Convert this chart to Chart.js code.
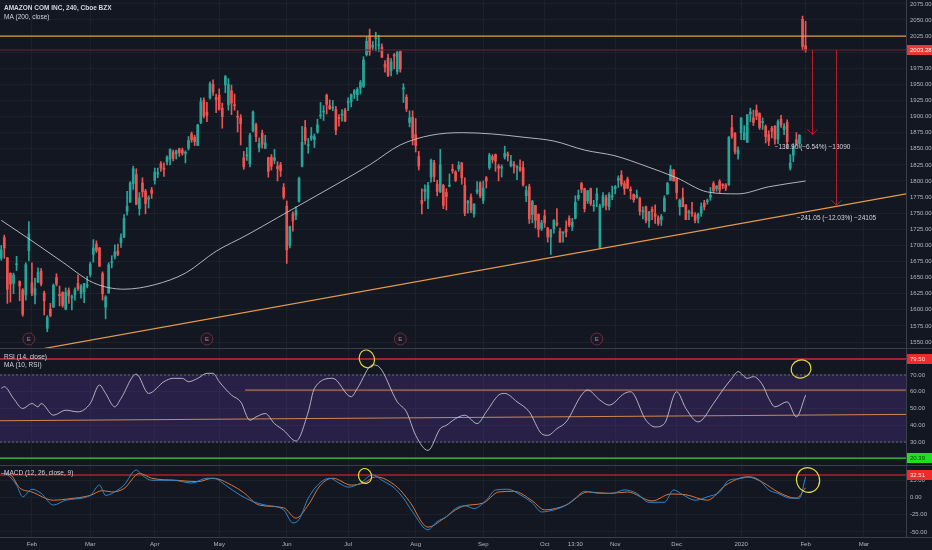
<!DOCTYPE html>
<html>
<head>
<meta charset="utf-8">
<title>AMAZON COM INC, 240</title>
<script src="https://cdn.jsdelivr.net/npm/chart.js@4.4.1/dist/chart.umd.min.js"></script>
<style>
  html, body { margin: 0; padding: 0; background: #131722; }
  #wrap { position: relative; width: 932px; height: 550px; overflow: hidden; background: #131722; }
  .pane { position: absolute; left: 0; width: 932px; }
  #p1 { top: 0; height: 348px; }
  #p2 { top: 348px; height: 117px; }
  #p3 { top: 465px; height: 85px; }
</style>
</head>
<body>
<div id="wrap">
  <div class="pane" id="p1"><canvas id="mainChart"></canvas></div>
  <div class="pane" id="p2"><canvas id="rsiChart"></canvas></div>
  <div class="pane" id="p3"><canvas id="macdChart"></canvas></div>
</div>
<script>
// one candle per trading day, 17 Jan 2019 (index 0) .. 3 Feb 2020 (index 262)
const opens = [
  1680,1712,1681,1657,1641,1670,1644,1631,1623,1692,                                   // Jan
  1642,1623,1643,1660,1626,1571,1601,1604,1650,1624,1627,1601,1630,1619,1623,1641,1625,1628,1637, // Feb
  1655,1686,1702,1696,1656,1604,1626,1673,1683,1691,1704,1713,1753,1767,1796,1810,1757,1797,1784,1772,1786, // Mar
  1801,1811,1827,1820,1830,1834,1845,1842,1850,1848,1843,1851,1873,1868,1855,1891,1925,1907,1929,1950,1930, // Apr
  1933,1913,1949,1918,1940,1918,1900,1898,1836,1839,1827,1878,1887,1852,1874,1851,1836,1837,1832,1823,1825,1790, // May
  1761,1700,1749,1747,1768,1823,1883,1855,1866,1864,1876,1901,1907,1933,1917,1913,1911,1898,1902,1910, // Jun
  1922,1923,1935,1934,1944,1947,1996,2025,2008,2021,2010,2008,1981,1991,1971,1996,1970,2001,1943,1930,1891,1899, // Jul
  1872,1838,1770,1784,1773,1806,1828,1795,1783,1793,1782,1792,1818,1814,1819,1828,1793,1766,1775,1749,1783,1797, // Aug
  1770,1805,1821,1838,1841,1823,1820,1837,1842,1824,1826,1821,1821,1821,1777,1791,1748,1762,1748,1726, // Sep
  1746,1727,1713,1726,1735,1722,1719,1725,1742,1729,1742,1773,1796,1788,1769,1788,1761,1771,1697,1762,1774,1760,1775, // Oct
  1788,1801,1809,1796,1803,1787,1779,1774,1773,1752,1760,1738,1756,1749,1743,1740,1753,1780,1801,1817, // Nov
  1804,1760,1774,1763,1751,1751,1747,1742,1750,1766,1768,1775,1796,1788,1799,1794,1794,1794,1883,1874,1842, // Dec
  1875,1864,1860,1904,1898,1910,1905,1891,1885,1872,1882,1885,1865,1896,1880,1891,1820,1840,1864,1858,2051, // Jan 2020
  2010                                                                                  // Feb 3
];
const highs = [
  1700,1716,1681,1657,1657,1683,1645,1633,1673,1737,
  1673,1649,1665,1664,1629,1591,1610,1640,1656,1637,1628,1634,1634,1623,1634,1654,1639,1641,1652,
  1674,1709,1707,1697,1659,1622,1673,1684,1701,1702,1718,1748,1784,1799,1823,1819,1782,1805,1787,1777,1790,
  1820,1820,1830,1828,1839,1850,1848,1848,1851,1851,1847,1869,1876,1871,1888,1929,1929,1922,1954,1957,1935,
  1943,1921,1964,1959,1949,1935,1909,1903,1846,1852,1874,1909,1890,1867,1879,1871,1837,1841,1849,1830,1829,1796,
  1769,1730,1752,1760,1806,1885,1894,1866,1883,1873,1896,1922,1917,1935,1926,1925,1916,1903,1911,1913,
  1929,1935,1942,1945,1956,1993,2024,2036,2017,2031,2026,2013,1987,1997,1990,1998,2001,2002,1951,1934,1909,1909,
  1897,1846,1788,1794,1798,1834,1832,1801,1849,1795,1788,1811,1826,1816,1830,1829,1805,1770,1780,1765,1799,1799,
  1800,1807,1843,1841,1842,1826,1825,1854,1845,1840,1830,1824,1833,1830,1792,1795,1770,1762,1749,1739,
  1755,1728,1725,1740,1757,1727,1721,1738,1746,1742,1777,1786,1798,1789,1785,1789,1770,1789,1764,1782,1778,1782,1792,
  1793,1808,1816,1800,1806,1791,1780,1786,1775,1760,1761,1753,1760,1763,1746,1748,1777,1798,1824,1818,
  1805,1772,1789,1763,1755,1767,1751,1750,1766,1770,1772,1790,1799,1793,1802,1796,1796,1869,1902,1875,1853,
  1898,1886,1903,1913,1910,1918,1906,1898,1887,1878,1885,1886,1895,1902,1889,1895,1841,1858,1875,1872,2056,
  2048
];
const lows = [
  1677,1680,1610,1612,1625,1661,1614,1590,1615,1676,
  1622,1609,1642,1637,1592,1566,1589,1604,1637,1606,1604,1600,1610,1600,1615,1630,1618,1611,1634,
  1651,1674,1689,1667,1615,1586,1626,1665,1679,1684,1697,1712,1747,1767,1787,1763,1747,1775,1749,1758,1773,
  1795,1805,1815,1807,1825,1825,1831,1834,1838,1840,1828,1848,1860,1855,1855,1889,1898,1892,1927,1933,1906,
  1910,1882,1937,1910,1903,1910,1876,1856,1818,1832,1822,1876,1861,1845,1851,1850,1806,1817,1827,1800,1807,1772,
  1672,1696,1722,1740,1767,1822,1857,1843,1863,1852,1874,1897,1894,1904,1911,1909,1872,1885,1893,1892,
  1909,1915,1928,1925,1935,1945,1994,1995,2003,2002,2001,1992,1969,1962,1963,1974,1966,1969,1922,1908,1884,1856,
  1845,1817,1749,1769,1757,1798,1799,1777,1782,1757,1755,1791,1812,1799,1815,1795,1746,1750,1751,1744,1780,1774,
  1765,1789,1818,1828,1815,1800,1806,1834,1831,1822,1812,1802,1815,1792,1768,1734,1735,1727,1713,1723,
  1728,1705,1686,1719,1730,1705,1705,1713,1729,1723,1741,1770,1782,1752,1765,1762,1753,1760,1695,1759,1755,1755,1771,
  1780,1790,1792,1779,1788,1772,1767,1773,1747,1741,1735,1728,1740,1734,1731,1731,1752,1779,1801,1800,
  1772,1747,1760,1740,1740,1745,1735,1735,1745,1755,1764,1770,1782,1784,1782,1788,1785,1793,1866,1842,1834,
  1864,1864,1860,1892,1886,1895,1880,1880,1859,1855,1867,1857,1858,1883,1872,1850,1817,1830,1855,1851,2003,
  2000
];
const closes = [
  1693,1696,1632,1640,1654,1670,1637,1593,1670,1718,
  1626,1633,1658,1640,1614,1588,1591,1638,1640,1622,1607,1627,1622,1619,1631,1633,1636,1641,1639,
  1671,1696,1692,1668,1625,1620,1670,1673,1690,1686,1712,1742,1761,1797,1819,1764,1774,1783,1765,1773,1781,
  1814,1813,1820,1818,1837,1849,1835,1847,1844,1843,1844,1863,1864,1861,1887,1923,1901,1902,1951,1938,1926,
  1911,1900,1962,1950,1921,1917,1899,1889,1822,1840,1871,1907,1869,1858,1857,1859,1815,1823,1836,1819,1816,1775,
  1693,1729,1738,1754,1804,1860,1863,1855,1870,1869,1887,1901,1908,1919,1912,1913,1879,1897,1904,1893,
  1923,1934,1940,1942,1953,1988,2017,2001,2011,2021,2010,1992,1977,1964,1985,1994,2000,1974,1943,1912,1898,1867,
  1855,1823,1765,1787,1793,1832,1807,1784,1825,1762,1776,1792,1816,1801,1824,1805,1750,1768,1755,1764,1786,1777,
  1789,1800,1840,1833,1831,1820,1822,1843,1839,1831,1823,1822,1817,1794,1785,1741,1768,1739,1725,1735,
  1735,1713,1724,1739,1732,1705,1721,1721,1732,1736,1767,1778,1787,1757,1785,1765,1762,1780,1761,1777,1762,1779,1777,
  1791,1804,1795,1788,1789,1785,1771,1778,1753,1754,1739,1752,1752,1745,1734,1745,1773,1796,1818,1800,
  1782,1770,1760,1740,1751,1749,1739,1748,1760,1760,1769,1778,1785,1792,1786,1793,1789,1868,1869,1846,1848,
  1898,1875,1903,1907,1891,1901,1883,1891,1869,1862,1877,1865,1892,1887,1885,1861,1828,1853,1858,1871,2009,
  2003.28
];

// MA(200, close)
const maAt  = [0,10,20,30,40,50,60,70,80,90,100,110,120,130,140,150,160,170,180,190,200,210,220,230,240,250,262];
const maVal = [1739,1707,1674,1642,1632,1639,1657,1691,1716,1743,1770,1797,1825,1856,1871,1875,1873,1868,1862,1848,1839,1823,1805,1783,1780,1791,1800];

// RSI(14, close)
const rsiAt  = [0,1,4,7,10,12,13,17,21,25,29,32,34,37,39,44,48,53,56,59,61,64,67,69,71,75,78,81,83,86,89,92,96,100,102,108,114,116,121,123,129,132,135,139,143,145,148,151,155,158,162,164,168,172,176,178,181,184,189,191,195,198,203,205,210,213,216,220,223,227,232,235,238,240,243,245,248,250,252,256,259,262];
const rsiVal = [62,63,56,50,53,51,53,46,49,48,53,64,59,51,56,70.5,59,66,68,68,66,68,71,71,66,58,54,43,45,47,41,37,30.6,48,62,68,57,62,76,75,54,48,34,25,38,40,44,46,41,48,58,59,54,48,35,34,38,42,58,61,55,52,59,60,43,39,41,60,50,42,53,61,68,72,68,69,64,56,51,54,45,58];

// MACD(12, 26, close, 9)
const macdAt  = [0,2,5,7,10,13,17,21,29,32,34,38,40,44,46,49,56,62,67,70,73,78,82,86,92,95,97,100,104,107,110,113,117,121,124,128,131,134,139,142,145,148,151,154,158,161,165,169,173,176,180,184,187,190,195,199,203,207,211,216,219,222,226,230,234,237,240,244,247,250,253,257,260,262];
const macdVal = [35,33,18,1,12,6,-11,-4,3,18,3,11,18,40,32,25,25,21,28,27,18,3,-6,-11,-18,-37,-32,-1,22,28,21,15,21,33,25,14,-1,-21,-47,-35,-28,-16,-12,-16,-4,11,12,4,-8,-21,-18,-11,-1,9,6,6,11,6,-7,-7,11,4,-4,1,8,25,27,30,25,11,6,-1,-1,30];
const signalAt  = [0,3,6,10,17,22,29,33,36,40,45,49,57,64,69,75,79,84,92,96,100,104,108,114,118,122,129,133,139,144,148,151,157,162,167,173,177,184,191,198,204,212,218,223,230,236,243,248,253,259,262];
const signalVal = [35,33,14,8,-4,-2,3,10,8,13,35,28,25,23,28,18,7,-11,-15,-30,-11,18,28,18,21,30,15,-6,-43,-31,-18,-12,-8,8,9,-5,-18,-11,8,6,8,-5,5,4,-4,18,30,22,8,-1,14];

// time axis
const monthTickAt    = [10,29,50,71,93,113,135,157,177,187,200,220,241,262,281];
const monthTickLabel = ['Feb','Mar','Apr','May','Jun','Jul','Aug','Sep','Oct','13:30','Nov','Dec','2020','Feb','Mar'];
const priceTicks = [1550,1575,1600,1625,1650,1675,1700,1725,1750,1775,1800,1825,1850,1875,1900,1925,1950,1975,2000,2025,2050,2075];
const rsiTicks   = [30,40,50,60,70];
const macdTicks  = [-50,-25,0,25];

// drawings on the chart
const resistance = 2025;
const lastPrice = 2003.28;
const trendLine = [[0, 1528], [294.7, 1780]];
const targetAt = [264, 272];
const targetPrice = [1872.38, 1762.23];
const targetText = ['\u2212130.90 (\u22126.54%) \u221213090', '\u2212241.05 (\u221212.03%) \u221224105'];
const earningsAt = [9, 67, 130, 194];
const rsiHigh = 79.5, rsiUpper = 70, rsiLower = 30, rsiLow = 20.39;
const rsiFlatLine = [[79.4, 61], [294.7, 61]];
const rsiSlopeLine = [[-0.4, 42.7], [294.7, 46.5]];
const macdLevel = 32.51;
const rsiCircles = [[119.1, 79.6, 7.5, 9], [260.5, 73.6, 10, 9]];
const macdCircles = [[118.5, 31.3, 6.5, 7.5], [262.8, 25.4, 11.5, 12.5]];

const X_MIN = -0.4, X_MAX = 294.7;
const UP = '#26a69a', DOWN = '#ef5350';
const GRID = '#1c202b', TEXT = '#b2b5be', SEP = '#3a3e4a';
const ORANGE = '#e89a45', RED = '#d8262c', REDTAG = '#ee2a2a';
const FONT = "'Liberation Sans', Arial, sans-serif";

Chart.defaults.font.family = FONT;
Chart.defaults.font.size = 6;
Chart.defaults.animation = false;

const pts = (at, vals) => at.map((x, i) => ({ x: x, y: vals[i] }));
const seg = arr => arr.map(p => ({ x: p[0], y: p[1] }));
const level = v => [{ x: X_MIN, y: v }, { x: X_MAX, y: v }];
const line = (data, color, width, extra) => Object.assign({
  type: 'line', data: data, borderColor: color, borderWidth: width,
  pointRadius: 0, fill: false, tension: 0
}, extra || {});

function xAxis(showLabels) {
  return {
    type: 'linear', min: X_MIN, max: X_MAX, offset: false,
    afterBuildTicks: s => { s.ticks = monthTickAt.map(v => ({ value: v })); },
    afterFit: s => { s.height = showLabels ? 13 : 0; s.paddingLeft = 0; s.paddingRight = 0; },
    grid: {
      offset: false, drawTicks: false,
      color: c => monthTickLabel[c.index] === '13:30' ? 'rgba(0,0,0,0)' : GRID
    },
    border: { display: false },
    ticks: {
      display: showLabels, color: TEXT, padding: 4, maxRotation: 0, autoSkip: false,
      callback: (v, i) => monthTickLabel[i]
    }
  };
}

function yAxis(min, max, tickValues, digits) {
  return {
    position: 'right', min: min, max: max,
    afterBuildTicks: s => { s.ticks = tickValues.map(v => ({ value: v })); },
    afterFit: s => { s.width = 26; s.paddingTop = 0; s.paddingBottom = 0; },
    grid: { color: GRID, drawTicks: false },
    border: { color: SEP },
    ticks: { color: TEXT, padding: 4, callback: v => v.toFixed(digits) }
  };
}

function tag(ctx, x, y, text, fill, color) {
  ctx.fillStyle = fill;
  ctx.fillRect(x + 1, Math.round(y) - 5, 25, 10);
  ctx.fillStyle = color;
  ctx.font = '6px ' + FONT;
  ctx.textAlign = 'left';
  ctx.textBaseline = 'middle';
  ctx.fillText(text, x + 4, Math.round(y) + 0.5);
}

function ellipses(chart, list) {
  const { ctx, scales: { x, y } } = chart;
  ctx.save();
  ctx.strokeStyle = '#e3dc3c';
  ctx.lineWidth = 1.2;
  list.forEach(e => {
    ctx.beginPath();
    ctx.ellipse(x.getPixelForValue(e[0]), y.getPixelForValue(e[1]), e[2], e[3], -0.3, 0, Math.PI * 2);
    ctx.stroke();
  });
  ctx.restore();
}

function separator(chart) {
  const ctx = chart.ctx;
  ctx.save();
  ctx.strokeStyle = SEP;
  ctx.lineWidth = 1;
  ctx.beginPath();
  ctx.moveTo(0, 0.5);
  ctx.lineTo(chart.width, 0.5);
  ctx.stroke();
  ctx.restore();
}

const baseOptions = {
  responsive: true,
  maintainAspectRatio: false,
  layout: { padding: 0, autoPadding: false },
  plugins: { legend: { display: false }, tooltip: { enabled: false } },
  events: []
};

// ---------- price pane ----------
const candleColor = c => closes[c.dataIndex] >= opens[c.dataIndex] ? UP : DOWN;

const mainOverlay = {
  id: 'mainOverlay',
  afterDatasetsDraw(chart) {
    const { ctx, chartArea: a, scales: { x, y } } = chart;
    ctx.save();
    // target arrows and their texts
    targetAt.forEach((t, i) => {
      const px = Math.round(x.getPixelForValue(t)) + 0.5;
      const y0 = y.getPixelForValue(lastPrice);
      const y1 = y.getPixelForValue(targetPrice[i]);
      ctx.strokeStyle = '#b3202a';
      ctx.lineWidth = 1;
      ctx.beginPath();
      ctx.moveTo(px, y0);
      ctx.lineTo(px, y1);
      ctx.moveTo(px - 5, y1 - 5);
      ctx.lineTo(px, y1);
      ctx.lineTo(px + 5, y1 - 5);
      ctx.stroke();
      ctx.fillStyle = '#d1d4dc';
      ctx.font = '6.5px ' + FONT;
      ctx.textAlign = 'center';
      ctx.textBaseline = 'middle';
      ctx.fillText(targetText[i], px, y1 + 13);
    });
    // earnings markers
    earningsAt.forEach(e => {
      const px = x.getPixelForValue(e);
      const py = a.bottom - 9;
      ctx.beginPath();
      ctx.arc(px, py, 6, 0, Math.PI * 2);
      ctx.fillStyle = '#171a26';
      ctx.fill();
      ctx.strokeStyle = '#6e2d3c';
      ctx.lineWidth = 1;
      ctx.stroke();
      ctx.fillStyle = '#c9788a';
      ctx.font = '6px ' + FONT;
      ctx.textAlign = 'center';
      ctx.textBaseline = 'middle';
      ctx.fillText('E', px, py + 0.5);
    });
    ctx.restore();
  },
  afterDraw(chart) {
    const { ctx, chartArea: a, scales: { y } } = chart;
    ctx.save();
    ctx.fillStyle = '#d1d4dc';
    ctx.textAlign = 'left';
    ctx.textBaseline = 'middle';
    ctx.font = 'bold 6.5px ' + FONT;
    ctx.fillText('AMAZON COM INC, 240, Cboe BZX', 4, 8);
    ctx.font = '6.5px ' + FONT;
    ctx.fillText('MA (200, close)', 4, 17);
    tag(ctx, a.right, y.getPixelForValue(lastPrice), lastPrice.toFixed(2), '#e53935', '#ffffff');
    ctx.restore();
  }
};

new Chart(document.getElementById('mainChart'), {
  type: 'bar',
  data: {
    datasets: [
      line(seg(trendLine), ORANGE, 1.2),
      line(level(resistance), ORANGE, 1.2),
      line(level(lastPrice), '#6b2530', 1),
      line(pts(maAt, maVal), 'rgba(205,207,214,0.85)', 1, { cubicInterpolationMode: 'monotone' }),
      {
        type: 'bar', grouped: false, barThickness: 2, minBarLength: 1,
        data: closes.map((c, i) => ({ x: i, y: [opens[i], c] })),
        backgroundColor: candleColor
      },
      {
        type: 'bar', grouped: false, barThickness: 1,
        data: closes.map((c, i) => ({ x: i, y: [lows[i], highs[i]] })),
        backgroundColor: candleColor
      }
    ]
  },
  options: Object.assign({}, baseOptions, {
    scales: { x: xAxis(false), y: yAxis(1540.7, 2081, priceTicks, 2) }
  }),
  plugins: [mainOverlay]
});

// ---------- RSI pane ----------
const rsiOverlay = {
  id: 'rsiOverlay',
  beforeDatasetsDraw(chart) {
    const { ctx, chartArea: a, scales: { y } } = chart;
    const top = y.getPixelForValue(rsiUpper), bottom = y.getPixelForValue(rsiLower);
    ctx.save();
    ctx.fillStyle = 'rgba(120,70,200,0.22)';
    ctx.fillRect(a.left, top, a.right - a.left, bottom - top);
    ctx.restore();
  },
  afterDatasetsDraw(chart) { ellipses(chart, rsiCircles); },
  afterDraw(chart) {
    const { ctx, chartArea: a, scales: { y } } = chart;
    ctx.save();
    separator(chart);
    ctx.fillStyle = '#d1d4dc';
    ctx.textAlign = 'left';
    ctx.textBaseline = 'middle';
    ctx.font = '6.5px ' + FONT;
    ctx.fillText('RSI (14, close)', 4, 9);
    ctx.fillText('MA (10, RSI)', 4, 17);
    tag(ctx, a.right, y.getPixelForValue(rsiHigh), rsiHigh.toFixed(2), REDTAG, '#ffe3e3');
    tag(ctx, a.right, y.getPixelForValue(rsiLow), rsiLow.toFixed(2), '#22dd22', '#0c3d0c');
    ctx.restore();
  }
};

new Chart(document.getElementById('rsiChart'), {
  type: 'line',
  data: {
    datasets: [
      line(pts(rsiAt, rsiVal), 'rgba(200,202,212,0.85)', 1, { cubicInterpolationMode: 'monotone' }),
      line(seg(rsiFlatLine), '#d0874f', 1),
      line(seg(rsiSlopeLine), '#d0874f', 1),
      line(level(rsiHigh), RED, 1.5),
      line(level(rsiUpper), '#6a6d78', 1, { borderDash: [2, 2] }),
      line(level(rsiLower), '#6a6d78', 1, { borderDash: [2, 2] }),
      line(level(rsiLow), '#3ccf3c', 1.2)
    ]
  },
  options: Object.assign({}, baseOptions, {
    scales: { x: xAxis(false), y: yAxis(16.3, 86.1, rsiTicks, 2) }
  }),
  plugins: [rsiOverlay]
});

// ---------- MACD pane ----------
const macdOverlay = {
  id: 'macdOverlay',
  afterDatasetsDraw(chart) { ellipses(chart, macdCircles); },
  afterDraw(chart) {
    const { ctx, chartArea: a, scales: { y } } = chart;
    ctx.save();
    separator(chart);
    ctx.strokeStyle = SEP;
    ctx.beginPath();
    ctx.moveTo(0, a.bottom + 0.5);
    ctx.lineTo(chart.width, a.bottom + 0.5);
    ctx.stroke();
    ctx.fillStyle = '#d1d4dc';
    ctx.textAlign = 'left';
    ctx.textBaseline = 'middle';
    ctx.font = '6.5px ' + FONT;
    ctx.fillText('MACD (12, 26, close, 9)', 4, 8);
    tag(ctx, a.right, y.getPixelForValue(macdLevel), macdLevel.toFixed(2), REDTAG, '#ffe3e3');
    ctx.restore();
  }
};

new Chart(document.getElementById('macdChart'), {
  type: 'line',
  data: {
    datasets: [
      line(pts(macdAt, macdVal), '#2f86c8', 1, { cubicInterpolationMode: 'monotone' }),
      line(pts(signalAt, signalVal), '#d9773a', 1, { cubicInterpolationMode: 'monotone' }),
      line(level(macdLevel), '#a8232a', 1.5)
    ]
  },
  options: Object.assign({}, baseOptions, {
    scales: { x: xAxis(true), y: yAxis(-57.4, 47.2, macdTicks, 2) }
  }),
  plugins: [macdOverlay]
});
</script>
</body>
</html>
